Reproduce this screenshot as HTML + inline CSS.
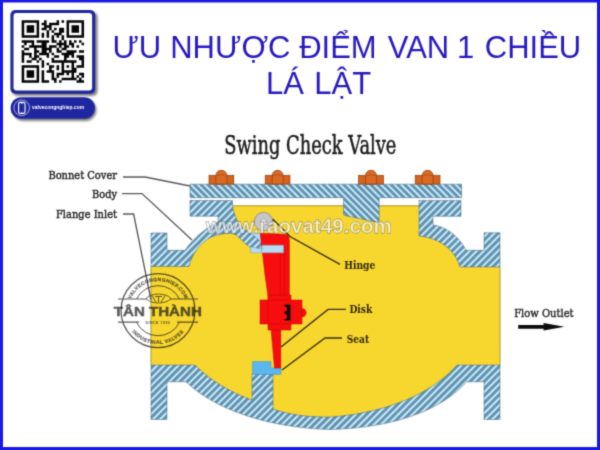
<!DOCTYPE html>
<html lang="vi"><head><meta charset="utf-8"><title>Ưu nhược điểm van 1 chiều lá lật</title>
<style>html,body{margin:0;padding:0;background:#fff;overflow:hidden}svg{display:block}</style>
</head><body>
<svg width="600" height="450" viewBox="0 0 600 450">
<defs>
<pattern id="hA" width="8" height="4.8" patternUnits="userSpaceOnUse" patternTransform="rotate(45) translate(0 1.35)">
<rect width="8" height="4.8" fill="#caf0ff"/><rect width="8" height="2.95" fill="#6391ae"/>
</pattern>
<pattern id="hB" width="8" height="5" patternUnits="userSpaceOnUse" patternTransform="rotate(-45) translate(0 0.6)">
<rect width="8" height="5" fill="#caf0ff"/><rect width="8" height="3.1" fill="#6391ae"/>
</pattern>
<filter id="sh" x="-20%" y="-20%" width="150%" height="150%" color-interpolation-filters="sRGB"><feGaussianBlur stdDeviation="1.1"/></filter>
<filter id="soft" x="-10" y="-10" width="620" height="470" filterUnits="userSpaceOnUse" color-interpolation-filters="sRGB"><feConvolveMatrix order="3" kernelMatrix="0.0256 0.1088 0.0256 0.1088 0.4624 0.1088 0.0256 0.1088 0.0256" divisor="1" edgeMode="duplicate" preserveAlpha="true"/></filter>
</defs>
<g filter="url(#soft)">
<rect x="-10" y="-10" width="620" height="470" fill="#1a18e4"/>
<rect x="3" y="2.5" width="594" height="444.5" fill="#ffffff"/>
<g id="qr">
<rect x="12.5" y="12" width="85" height="84" rx="5" fill="#555" opacity="0.75" filter="url(#sh)"/>
<rect x="10.4" y="10" width="84.8" height="83.8" rx="5" fill="#1f27a0"/>
<rect x="13.5" y="13" width="78.6" height="77.6" rx="3" fill="#ffffff"/>
<path d="M21.65 20.30h17.51v2.54h-17.51zM44.10 20.30h2.54v2.54h-2.54zM56.57 20.30h2.54v2.54h-2.54zM61.55 20.30h2.54v2.54h-2.54zM66.54 20.30h17.51v2.54h-17.51zM21.65 22.79h2.54v2.54h-2.54zM36.61 22.79h2.54v2.54h-2.54zM41.60 22.79h5.04v2.54h-5.04zM49.08 22.79h10.03v2.54h-10.03zM66.54 22.79h2.54v2.54h-2.54zM81.51 22.79h2.54v2.54h-2.54zM21.65 25.29h2.54v2.54h-2.54zM26.64 25.29h7.53v2.54h-7.53zM36.61 25.29h2.54v2.54h-2.54zM44.10 25.29h7.53v2.54h-7.53zM66.54 25.29h2.54v2.54h-2.54zM71.53 25.29h7.53v2.54h-7.53zM81.51 25.29h2.54v2.54h-2.54zM21.65 27.78h2.54v2.54h-2.54zM26.64 27.78h7.53v2.54h-7.53zM36.61 27.78h2.54v2.54h-2.54zM41.60 27.78h5.04v2.54h-5.04zM49.08 27.78h2.54v2.54h-2.54zM54.07 27.78h2.54v2.54h-2.54zM59.06 27.78h5.04v2.54h-5.04zM66.54 27.78h2.54v2.54h-2.54zM71.53 27.78h7.53v2.54h-7.53zM81.51 27.78h2.54v2.54h-2.54zM21.65 30.28h2.54v2.54h-2.54zM26.64 30.28h7.53v2.54h-7.53zM36.61 30.28h2.54v2.54h-2.54zM46.59 30.28h2.54v2.54h-2.54zM51.58 30.28h2.54v2.54h-2.54zM59.06 30.28h5.04v2.54h-5.04zM66.54 30.28h2.54v2.54h-2.54zM71.53 30.28h7.53v2.54h-7.53zM81.51 30.28h2.54v2.54h-2.54zM21.65 32.77h2.54v2.54h-2.54zM36.61 32.77h2.54v2.54h-2.54zM41.60 32.77h2.54v2.54h-2.54zM46.59 32.77h2.54v2.54h-2.54zM54.07 32.77h7.53v2.54h-7.53zM66.54 32.77h2.54v2.54h-2.54zM81.51 32.77h2.54v2.54h-2.54zM21.65 35.26h17.51v2.54h-17.51zM41.60 35.26h2.54v2.54h-2.54zM46.59 35.26h2.54v2.54h-2.54zM51.58 35.26h2.54v2.54h-2.54zM56.57 35.26h2.54v2.54h-2.54zM61.55 35.26h2.54v2.54h-2.54zM66.54 35.26h17.51v2.54h-17.51zM51.58 37.76h2.54v2.54h-2.54zM61.55 37.76h2.54v2.54h-2.54zM21.65 40.25h12.52v2.54h-12.52zM36.61 40.25h12.52v2.54h-12.52zM51.58 40.25h5.04v2.54h-5.04zM59.06 40.25h2.54v2.54h-2.54zM64.05 40.25h2.54v2.54h-2.54zM69.04 40.25h2.54v2.54h-2.54zM74.02 40.25h2.54v2.54h-2.54zM79.01 40.25h2.54v2.54h-2.54zM24.14 42.75h2.54v2.54h-2.54zM31.63 42.75h2.54v2.54h-2.54zM41.60 42.75h5.04v2.54h-5.04zM56.57 42.75h10.03v2.54h-10.03zM69.04 42.75h5.04v2.54h-5.04zM81.51 42.75h2.54v2.54h-2.54zM21.65 45.24h2.54v2.54h-2.54zM29.13 45.24h17.51v2.54h-17.51zM49.08 45.24h7.53v2.54h-7.53zM59.06 45.24h2.54v2.54h-2.54zM64.05 45.24h5.04v2.54h-5.04zM71.53 45.24h2.54v2.54h-2.54zM76.52 45.24h2.54v2.54h-2.54zM24.14 47.73h5.04v2.54h-5.04zM34.12 47.73h2.54v2.54h-2.54zM41.60 47.73h10.03v2.54h-10.03zM56.57 47.73h2.54v2.54h-2.54zM61.55 47.73h5.04v2.54h-5.04zM21.65 50.23h2.54v2.54h-2.54zM34.12 50.23h5.04v2.54h-5.04zM41.60 50.23h5.04v2.54h-5.04zM49.08 50.23h2.54v2.54h-2.54zM56.57 50.23h5.04v2.54h-5.04zM66.54 50.23h10.03v2.54h-10.03zM79.01 50.23h5.04v2.54h-5.04zM21.65 52.72h10.03v2.54h-10.03zM34.12 52.72h2.54v2.54h-2.54zM39.11 52.72h10.03v2.54h-10.03zM51.58 52.72h2.54v2.54h-2.54zM61.55 52.72h12.52v2.54h-12.52zM21.65 55.22h2.54v2.54h-2.54zM29.13 55.22h2.54v2.54h-2.54zM34.12 55.22h5.04v2.54h-5.04zM46.59 55.22h2.54v2.54h-2.54zM54.07 55.22h5.04v2.54h-5.04zM64.05 55.22h5.04v2.54h-5.04zM71.53 55.22h2.54v2.54h-2.54zM76.52 55.22h7.53v2.54h-7.53zM21.65 57.71h2.54v2.54h-2.54zM31.63 57.71h5.04v2.54h-5.04zM39.11 57.71h2.54v2.54h-2.54zM51.58 57.71h2.54v2.54h-2.54zM64.05 57.71h2.54v2.54h-2.54zM79.01 57.71h5.04v2.54h-5.04zM21.65 60.20h2.54v2.54h-2.54zM26.64 60.20h5.04v2.54h-5.04zM36.61 60.20h2.54v2.54h-2.54zM41.60 60.20h2.54v2.54h-2.54zM51.58 60.20h24.99v2.54h-24.99zM81.51 60.20h2.54v2.54h-2.54zM41.60 62.70h2.54v2.54h-2.54zM46.59 62.70h2.54v2.54h-2.54zM61.55 62.70h2.54v2.54h-2.54zM71.53 62.70h2.54v2.54h-2.54zM81.51 62.70h2.54v2.54h-2.54zM21.65 65.19h17.51v2.54h-17.51zM41.60 65.19h2.54v2.54h-2.54zM49.08 65.19h5.04v2.54h-5.04zM56.57 65.19h2.54v2.54h-2.54zM61.55 65.19h2.54v2.54h-2.54zM66.54 65.19h2.54v2.54h-2.54zM71.53 65.19h2.54v2.54h-2.54zM76.52 65.19h7.53v2.54h-7.53zM21.65 67.69h2.54v2.54h-2.54zM36.61 67.69h2.54v2.54h-2.54zM49.08 67.69h2.54v2.54h-2.54zM56.57 67.69h2.54v2.54h-2.54zM61.55 67.69h2.54v2.54h-2.54zM71.53 67.69h5.04v2.54h-5.04zM21.65 70.18h2.54v2.54h-2.54zM26.64 70.18h7.53v2.54h-7.53zM36.61 70.18h2.54v2.54h-2.54zM41.60 70.18h2.54v2.54h-2.54zM46.59 70.18h7.53v2.54h-7.53zM61.55 70.18h15.01v2.54h-15.01zM21.65 72.67h2.54v2.54h-2.54zM26.64 72.67h7.53v2.54h-7.53zM36.61 72.67h2.54v2.54h-2.54zM41.60 72.67h2.54v2.54h-2.54zM51.58 72.67h2.54v2.54h-2.54zM56.57 72.67h7.53v2.54h-7.53zM66.54 72.67h2.54v2.54h-2.54zM71.53 72.67h2.54v2.54h-2.54zM79.01 72.67h5.04v2.54h-5.04zM21.65 75.17h2.54v2.54h-2.54zM26.64 75.17h7.53v2.54h-7.53zM36.61 75.17h2.54v2.54h-2.54zM41.60 75.17h2.54v2.54h-2.54zM51.58 75.17h2.54v2.54h-2.54zM56.57 75.17h2.54v2.54h-2.54zM71.53 75.17h2.54v2.54h-2.54zM76.52 75.17h2.54v2.54h-2.54zM81.51 75.17h2.54v2.54h-2.54zM21.65 77.66h2.54v2.54h-2.54zM36.61 77.66h2.54v2.54h-2.54zM41.60 77.66h2.54v2.54h-2.54zM51.58 77.66h5.04v2.54h-5.04zM61.55 77.66h15.01v2.54h-15.01zM79.01 77.66h2.54v2.54h-2.54zM21.65 80.16h17.51v2.54h-17.51zM41.60 80.16h7.53v2.54h-7.53zM54.07 80.16h2.54v2.54h-2.54zM59.06 80.16h2.54v2.54h-2.54zM76.52 80.16h7.53v2.54h-7.53z" fill="#050505"/>
<rect x="12.5" y="99" width="84" height="22" rx="11" fill="#555" opacity="0.75" filter="url(#sh)"/>
<rect x="10.6" y="97.2" width="84.4" height="21.6" rx="10.8" fill="#1f27a0"/>
<circle cx="21.7" cy="107.8" r="7.8" fill="none" stroke="#ffffff" stroke-width="0.6"/>
<rect x="18.6" y="102.4" width="6.4" height="11" rx="1.4" fill="none" stroke="#ffffff" stroke-width="1.1"/><path d="M20.6 103.6 H23 M21.2 112.2 H22.4" stroke="#ffffff" stroke-width="0.5"/>
<text x="32.1" y="109" font-family="'Liberation Sans',sans-serif" font-weight="bold" font-size="5.6" fill="#ffffff" textLength="52" lengthAdjust="spacingAndGlyphs">valvecongnghiep.com</text>
</g>
<text y="57.6" font-family="'Liberation Sans',sans-serif" font-size="31" fill="#2618c0"><tspan x="112.4">ƯU</tspan> <tspan x="170.2">NHƯỢC</tspan> <tspan x="299.2">ĐIỂM</tspan> <tspan x="387.8">VAN</tspan> <tspan x="457.0">1</tspan> <tspan x="484.8">CHIỀU</tspan></text>
<text y="93.9" font-family="'Liberation Sans',sans-serif" font-size="31" fill="#2618c0"><tspan x="266">LÁ</tspan> <tspan x="314.3">LẬT</tspan></text>
<text transform="translate(224.2,154.4) scale(0.674,1)" font-family="'DejaVu Serif','Liberation Serif',serif" font-size="26.5" fill="#1c1c1c" stroke="#1c1c1c" stroke-width="0.55">Swing Check Valve</text>
<clipPath id="yc"><rect x="151" y="205.8" width="349" height="230"/></clipPath>
<g clip-path="url(#yc)"><path d="M151 266.5 L189 266.5 C193 252 205 237 229.5 233.2 C238 234 246 243 252 248 L262 250 C250 232 236 225 232.5 205.8 L419 205.8 L419 236 C440 238 455 250 460 267 L500 267 L500 365 L457 365 C440 385 400 412 330 417 C300 417 285 413 273 409 L273 372 L252 372 L252 400 C230 392 210 380 195 365 L151 365 Z" fill="#f7d72e" stroke="#f7d72e" stroke-width="4" stroke-linejoin="round"/></g>
<path d="M232.5 205.8 H419 M151 266.5 V365 M500 267 V365" fill="none" stroke="#a08c26" stroke-width="0.9"/>
<g stroke="#4d7088" stroke-width="0.7" stroke-dasharray="1.8 0.5">
<path d="M190 184.2 H461.6 V197.7 H379.2 V222.7 L343.5 215.2 V197.7 H190 Z" fill="url(#hA)"/>
<path d="M190 200.5 H232.5 V205 C233.5 213 236 219 240 225 C245 230 250 233 255 236.2 C259 239 262 243 263.4 249.4 L251 248 C247 245 243 241.5 237 235.5 C234 233.8 231 233.2 229.5 233.2 C222 233.5 214 235.5 210 237.7 C200 243 192 254 189 266.5 H151 V233 H167 V250.3 H185 C192 240 205 228 218 222 V216.2 H190 Z" fill="url(#hB)"/>
<path d="M419 200.4 H461 V216.3 H433 V225 C448 227 460 238 466 250.3 H484 V232.8 H500 V267 H460 C455 250 440 238 419 236 Z" fill="url(#hB)"/>
<path d="M151 365 H195 C210 380 230 392 252 400 V374 H273 V409 C285 413 300 417 330 417 C400 412 440 385 457 365 H500 V419.5 H484 V381.8 H466.5 C440 412 390 428 330 429.5 C270 428 215 410 186 381.8 H167 V419.5 H151 Z" fill="url(#hB)"/>
</g>
<g transform="translate(221.4,0)">
<rect x="-12.4" y="175.3" width="24.8" height="8.8" fill="#d4641f" stroke="#8e3f10" stroke-width="0.7"/>
<path d="M-5.5 184.1 V175.8 C-5.5 168.4 5.5 168.4 5.5 175.8 V184.1 Z" fill="#d96a25" stroke="#8e3f10" stroke-width="0.7"/><path d="M-5.5 175.8 Q0 173.6 5.5 175.8" fill="none" stroke="#8e3f10" stroke-width="0.5"/>
</g>
<g transform="translate(277.6,0)">
<rect x="-12.4" y="175.3" width="24.8" height="8.8" fill="#d4641f" stroke="#8e3f10" stroke-width="0.7"/>
<path d="M-5.5 184.1 V175.8 C-5.5 168.4 5.5 168.4 5.5 175.8 V184.1 Z" fill="#d96a25" stroke="#8e3f10" stroke-width="0.7"/><path d="M-5.5 175.8 Q0 173.6 5.5 175.8" fill="none" stroke="#8e3f10" stroke-width="0.5"/>
</g>
<g transform="translate(371.0,0)">
<rect x="-12.4" y="175.3" width="24.8" height="8.8" fill="#d4641f" stroke="#8e3f10" stroke-width="0.7"/>
<path d="M-5.5 184.1 V175.8 C-5.5 168.4 5.5 168.4 5.5 175.8 V184.1 Z" fill="#d96a25" stroke="#8e3f10" stroke-width="0.7"/><path d="M-5.5 175.8 Q0 173.6 5.5 175.8" fill="none" stroke="#8e3f10" stroke-width="0.5"/>
</g>
<g transform="translate(427.6,0)">
<rect x="-12.4" y="175.3" width="24.8" height="8.8" fill="#d4641f" stroke="#8e3f10" stroke-width="0.7"/>
<path d="M-5.5 184.1 V175.8 C-5.5 168.4 5.5 168.4 5.5 175.8 V184.1 Z" fill="#d96a25" stroke="#8e3f10" stroke-width="0.7"/><path d="M-5.5 175.8 Q0 173.6 5.5 175.8" fill="none" stroke="#8e3f10" stroke-width="0.5"/>
</g>
<path d="M252.4 361.6 H271 V368 H281 V374.4 H252.4 Z" fill="#5ab6ee" stroke="#4a93c4" stroke-width="0.5"/>
<path d="M249.7 232.6 L260.5 233.4 L262 245.2 H283.6 V252.8 H250.6 L250.6 247 L263.4 249.4 C262 243 259 239 255 236.2 Z" fill="#b4dcf6" stroke="#7fa6c0" stroke-width="0.5"/>
<g fill="#f70d0d" stroke="#c00808" stroke-width="0.5">
<path d="M260.2 233.2 L285.7 234.3 C288 235 289.4 237 289.4 240 V296 H280.8 V368 H274.5 L268 296 L265 275 Z"/>
<path d="M268 295 H291 V330 H268 Z"/>
<path d="M260 300 H302 V324 H260 Z"/>
<path d="M302 308.6 A4.2 4.2 0 0 1 302 317 Z"/>
<path d="M280.3 244 V296 M284.3 244 V296 M268 300 V324 M291 300 V324" fill="none"/>
</g>
<path d="M284.4 304.4 H290.4 V320.4 H284.4 V319 A2.6 2.6 0 0 0 284.4 313.8 V311.6 A2.6 2.6 0 0 0 284.4 306.4 Z" fill="#111"/>
<path d="M262 245.2 H283.6 V252.8 H262 Z" fill="#b4dcf6" stroke="#7fa6c0" stroke-width="0.5"/>
<circle cx="263.5" cy="221.6" r="9.2" fill="#c6c6c6" stroke="#8f8f8f" stroke-width="0.9"/>
<circle cx="263.5" cy="221.6" r="2.8" fill="#e4e4e4" stroke="#9a9a9a" stroke-width="0.6"/>
<g fill="none" stroke="#585858" stroke-width="1.35">
<path d="M123 177 H145 L190 186"/>
<path d="M122 193.6 H142 L192 240"/>
<path d="M123 214 H133.6 L151 300"/>
</g>
<g fill="none" stroke="#3a2f08" stroke-width="1.4">
<path d="M272.6 219 Q281 227 290 236.5 L340 264.4"/>
<path d="M346 309.4 H328 L281 347"/>
<path d="M342 338 H325 L282 370"/>
</g>
<text x="48.4" y="179.4" font-family="'DejaVu Serif','Liberation Serif',serif" font-size="10.2" font-weight="normal" fill="#262626" stroke="#262626" stroke-width="0.40" text-anchor="start" textLength="68.6" lengthAdjust="spacingAndGlyphs">Bonnet Cover</text>
<text x="92.0" y="198.0" font-family="'DejaVu Serif','Liberation Serif',serif" font-size="10.2" font-weight="normal" fill="#262626" stroke="#262626" stroke-width="0.40" text-anchor="start" textLength="25.0" lengthAdjust="spacingAndGlyphs">Body</text>
<text x="56.0" y="217.6" font-family="'DejaVu Serif','Liberation Serif',serif" font-size="10.2" font-weight="normal" fill="#262626" stroke="#262626" stroke-width="0.40" text-anchor="start" textLength="61.0" lengthAdjust="spacingAndGlyphs">Flange Inlet</text>
<text x="344.2" y="269.4" font-family="'DejaVu Serif','Liberation Serif',serif" font-size="10.2" font-weight="bold" fill="#30280c" stroke="#30280c" stroke-width="0.00" text-anchor="start" textLength="31.2" lengthAdjust="spacingAndGlyphs">Hinge</text>
<text x="349.4" y="313.0" font-family="'DejaVu Serif','Liberation Serif',serif" font-size="10.2" font-weight="bold" fill="#30280c" stroke="#30280c" stroke-width="0.00" text-anchor="start" textLength="22.8" lengthAdjust="spacingAndGlyphs">Disk</text>
<text x="346.8" y="343.0" font-family="'DejaVu Serif','Liberation Serif',serif" font-size="10.2" font-weight="bold" fill="#30280c" stroke="#30280c" stroke-width="0.00" text-anchor="start" textLength="22.4" lengthAdjust="spacingAndGlyphs">Seat</text>
<text x="514.2" y="317.2" font-family="'DejaVu Serif','Liberation Serif',serif" font-size="10.2" font-weight="normal" fill="#2a2a2a" stroke="#2a2a2a" stroke-width="0.40" text-anchor="start" textLength="59.4" lengthAdjust="spacingAndGlyphs">Flow Outlet</text>
<path d="M518.2 325 H543.6 V323 L564.4 326.8 L543.6 330.6 V328.7 H518.2 Z" fill="#0c0c0c"/>
<text x="206" y="233.4" font-family="'Liberation Sans',sans-serif" font-size="20.6" font-weight="bold" fill="#ffffff" fill-opacity="0.6" stroke="#6a6a6a" stroke-opacity="0.75" stroke-width="0.8" paint-order="stroke">www.raovat49.com</text>
<g opacity="0.72" fill="none" stroke="#1a1a1a">
<circle cx="158" cy="310.6" r="37" stroke-width="1.3"/>
<path d="M136.5 299 A24 24 0 0 1 179.5 299 M136.5 322.4 A24 24 0 0 0 179.5 322.4" stroke-width="1"/>
<path d="M118 299 H147 M170 299 H198 M118 322.2 H139 M177 322.2 H198" stroke-width="1.2"/>
<path d="M146 298.5 C151 292.6 166 292.6 171 298.5 C166 304.5 151 304.5 146 298.5 Z M152 295.5 L156 302.5 M165 295.5 L161 302.5 M155 296.5 H162 M158.5 296.5 V302" stroke-width="0.9"/>
</g>
<path id="arcT" d="M128.5 310.6 A29.5 29.5 0 0 1 187.5 310.6" fill="none"/>
<path id="arcB" d="M124.5 310.6 A33.5 33.5 0 0 0 191.5 310.6" fill="none"/>
<g opacity="0.72" fill="#1a1a1a" font-family="'Liberation Sans',sans-serif" font-weight="bold">
<text font-size="5" letter-spacing="0.35" stroke="#1a1a1a" stroke-width="0.2"><textPath href="#arcT" startOffset="50%" text-anchor="middle">VALVECONGNGHIEP.COM</textPath></text>
<text font-size="5" letter-spacing="0.5" stroke="#1a1a1a" stroke-width="0.2"><textPath href="#arcB" startOffset="50%" text-anchor="middle">INDUSTRIAL VALVES</textPath></text>
<text x="113.8" y="316.2" font-size="12.6" textLength="88" lengthAdjust="spacingAndGlyphs" stroke="#1a1a1a" stroke-width="0.45">TÂN THÀNH</text>
<text x="158" y="323.8" font-size="3.6" text-anchor="middle" letter-spacing="0.5">SINCE 1990</text>
</g>
</g>
</svg>
</body></html>
